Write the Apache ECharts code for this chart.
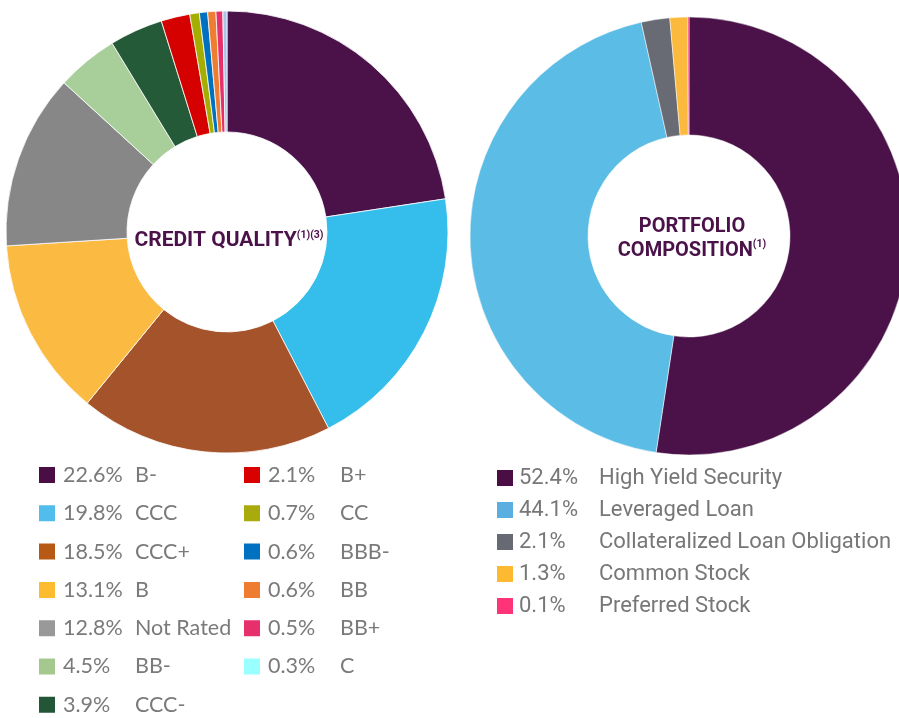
<!DOCTYPE html>
<html>
<head>
<meta charset="utf-8">
<script src="https://cdn.jsdelivr.net/npm/echarts@6/dist/echarts.min.js"></script>
<style>
  html, body { margin: 0; padding: 0; background: #fff; }
  #chart { width: 899px; height: 718px; }
</style>
</head>
<body>
<div id="chart"></div>
<script>
// credit quality, clockwise from 12 o'clock
var creditNames = ['B-', 'CCC', 'CCC+', 'B', 'Not Rated', 'BB-', 'CCC-', 'B+', 'CC', 'BBB-', 'BB', 'BB+', 'C'];
var creditValues = [22.6, 19.8, 18.5, 13.1, 12.8, 4.5, 3.9, 2.1, 0.7, 0.6, 0.6, 0.5, 0.3];
var creditColors = ['#4a1248', '#35bdeb', '#a4532a', '#fbba42', '#878787', '#a8cf9a', '#245a38',
                    '#d50000', '#a5ad00', '#0070c0', '#ee7d31', '#e5306b', '#a9c5e9'];
var creditLegendColors = ['#4a0e45', '#50bdec', '#b85815', '#fdbb2f', '#999999', '#a5c88f', '#225636',
                          '#d90000', '#a8ab0b', '#0070c0', '#ee7d31', '#e5306b', '#99ffff'];

// portfolio composition
var compNames = ['High Yield Security', 'Leveraged Loan', 'Collateralized Loan Obligation', 'Common Stock', 'Preferred Stock'];
var compValues = [52.4, 44.1, 2.1, 1.3, 0.1];
var compColors = ['#4a1248', '#5bbce6', '#686b73', '#fbba3e', '#f0306e'];
var compLegendColors = ['#4a0e45', '#5aafe0', '#676a72', '#fdb930', '#ff3377'];

var chart = echarts.init(document.getElementById('chart'));

function pieData(names, values, colors) {
    return names.map((n, i) => ({ name: n, value: values[i], itemStyle: { color: colors[i] } }));
}

function legendData(names, colors, from, to) {
    var out = [];
    for (var i = from; i < to; i++) {
        out.push({ name: names[i], itemStyle: { color: colors[i] } });
    }
    return out;
}

var creditLookup = {};
creditNames.forEach((n, i) => { creditLookup[n] = creditValues[i]; });
var compLookup = {};
compNames.forEach((n, i) => { compLookup[n] = compValues[i]; });

function creditLegend(left, from, to) {
    return {
        orient: 'vertical',
        left: left,
        top: 464,
        height: 270,
        padding: 0,
        icon: 'rect',
        itemWidth: 18,
        itemHeight: 18,
        itemGap: 16.3,
        selectedMode: false,
        data: legendData(creditNames, creditLegendColors, from, to),
        formatter: name => '{p|' + creditLookup[name].toFixed(1) + '%}{n|' + name + '}',
        textStyle: {
            color: '#7a7a7a',
            rich: {
                p: { fontFamily: 'Lato', fontSize: 21.5, color: '#7a7a7a', width: 72, lineHeight: 22, padding: [0, 0, 0, 2] },
                n: { fontFamily: 'Lato', fontSize: 21.5, color: '#7a7a7a', lineHeight: 22 }
            }
        }
    };
}

chart.setOption({
    animation: false,
    title: [
        {
            text: '{m|CREDIT QUALITY}{s|(1)(3)}',
            left: 229,
            top: 230,
            padding: 0,
            textAlign: 'center',
            textStyle: {
                rich: {
                    m: { fontFamily: 'Roboto', fontWeight: 'bold', fontSize: 21, color: '#4a1248', lineHeight: 22 },
                    s: { fontFamily: 'Roboto', fontWeight: 'bold', fontSize: 10.5, color: '#4a1248', verticalAlign: 'top', lineHeight: 22 }
                }
            }
        },
        {
            text: '{m|PORTFOLIO}\n{m|COMPOSITION}{s|(1)}',
            left: 692,
            top: 215,
            padding: 0,
            textAlign: 'center',
            textStyle: {
                rich: {
                    m: { fontFamily: 'Roboto', fontWeight: 'bold', fontSize: 20, color: '#4a1248', lineHeight: 24 },
                    s: { fontFamily: 'Roboto', fontWeight: 'bold', fontSize: 10.5, color: '#4a1248', verticalAlign: 'top', lineHeight: 24 }
                }
            }
        }
    ],
    legend: [
        creditLegend(37, 0, 7),
        creditLegend(242, 7, 13),
        {
            orient: 'vertical',
            left: 495,
            top: 467,
            padding: 0,
            icon: 'rect',
            itemWidth: 18,
            itemHeight: 18,
            itemGap: 10,
            selectedMode: false,
            data: legendData(compNames, compLegendColors, 0, compNames.length),
            formatter: name => '{p|' + compLookup[name].toFixed(1) + '%}{n|' + name + '}',
            textStyle: {
                color: '#777',
                rich: {
                    p: { fontFamily: 'Roboto', fontSize: 22, color: '#777', width: 80, lineHeight: 22 },
                    n: { fontFamily: 'Roboto', fontSize: 22, color: '#777', lineHeight: 22 }
                }
            }
        }
    ],
    series: [
        {
            type: 'pie',
            center: [227, 232],
            radius: [100, 221],
            startAngle: 90,
            clockwise: true,
            label: { show: false },
            labelLine: { show: false },
            emphasis: { disabled: true },
            itemStyle: { borderColor: '#fff', borderWidth: 0.8 },
            data: pieData(creditNames, creditValues, creditColors)
        },
        {
            type: 'pie',
            center: [689, 236],
            radius: [101, 219],
            startAngle: 90,
            clockwise: true,
            label: { show: false },
            labelLine: { show: false },
            emphasis: { disabled: true },
            itemStyle: { borderColor: '#fff', borderWidth: 0.5 },
            data: pieData(compNames, compValues, compColors)
        }
    ]
});
</script>
</body>
</html>
